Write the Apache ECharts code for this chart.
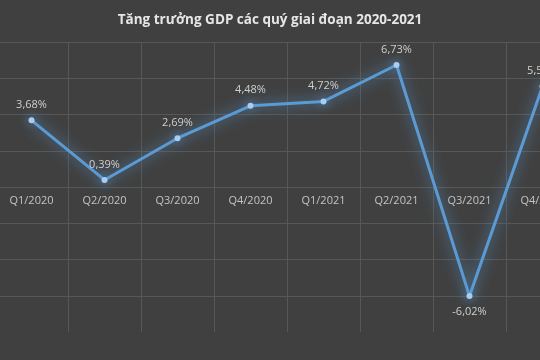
<!DOCTYPE html>
<html><head><meta charset="utf-8">
<script src="https://cdn.jsdelivr.net/npm/echarts@6/dist/echarts.min.js"></script>
<style>html,body{margin:0;padding:0;background:#404040;}#c{width:540px;height:360px;}</style>
</head><body><div id="c"></div>
<script>
var title = 'Tăng trưởng GDP các quý giai đoạn 2020-2021';
var categories = ['Q1/2020','Q2/2020','Q3/2020','Q4/2020','Q1/2021','Q2/2021','Q3/2021','Q4/2021'];
var gdpGrowth = [3.68, 0.39, 2.69, 4.48, 4.72, 6.73, -6.02, 5.55];
var yMin = -8, yMax = 8, yStep = 2;

var chart = echarts.init(document.getElementById('c'), null, {renderer:'canvas'});
var gridColors = [];
for (var v = yMin; v <= yMax; v += yStep) gridColors.push(v === yMin ? 'rgba(0,0,0,0)' : '#575757');
var gridTop = 42, gridHeight = 290;
// axis sits on the zero line: shift it up by the distance from the bottom to zero
var zeroShift = gridHeight * (0 - yMin) / (yMax - yMin);
chart.setOption({
  backgroundColor: '#404040',
  animation: false,
  title: {
    text: title, left: 'center', top: 8,
    textStyle: {color: '#e6e6e6', fontSize: 13.5, fontWeight: 'bold', fontFamily: 'Open Sans'}
  },
  grid: {left: -5, width: 584, top: gridTop, height: gridHeight, containLabel: false, outerBoundsMode: 'none'},
  xAxis: {
    type: 'category', data: categories, boundaryGap: true, position: 'bottom', offset: -zeroShift,
    axisLine: {show: false, onZero: false},
    axisTick: {show: false},
    axisLabel: {color: '#c4c4c4', fontSize: 11, fontFamily: 'Open Sans', margin: 8},
    splitLine: {show: true, lineStyle: {color: '#575757', width: 1}}
  },
  yAxis: {
    type: 'value', min: yMin, max: yMax, interval: yStep,
    axisLabel: {show: false}, axisLine: {show: false}, axisTick: {show: false},
    splitLine: {show: true, lineStyle: {color: gridColors, width: 1}}
  },
  series: [{
    type: 'line', data: gdpGrowth.map(function(v){
      return {value: v, label: {position: v < 0 ? 'bottom' : 'top'}};
    }),
    symbol: 'circle', symbolSize: 6,
    itemStyle: {color: '#a9cdf0', shadowColor: 'rgba(91,155,213,1)', shadowBlur: 10},
    lineStyle: {color: '#5b9bd5', width: 3, shadowColor: 'rgba(91,155,213,1)', shadowBlur: 14},
    label: {
      show: true, color: '#cfcfcf', fontSize: 11, fontFamily: 'Open Sans', distance: 7,
      formatter: function(p){ return p.value.toFixed(2).replace('.', ',') + '%'; }
    }
  }]
});
</script></body></html>
